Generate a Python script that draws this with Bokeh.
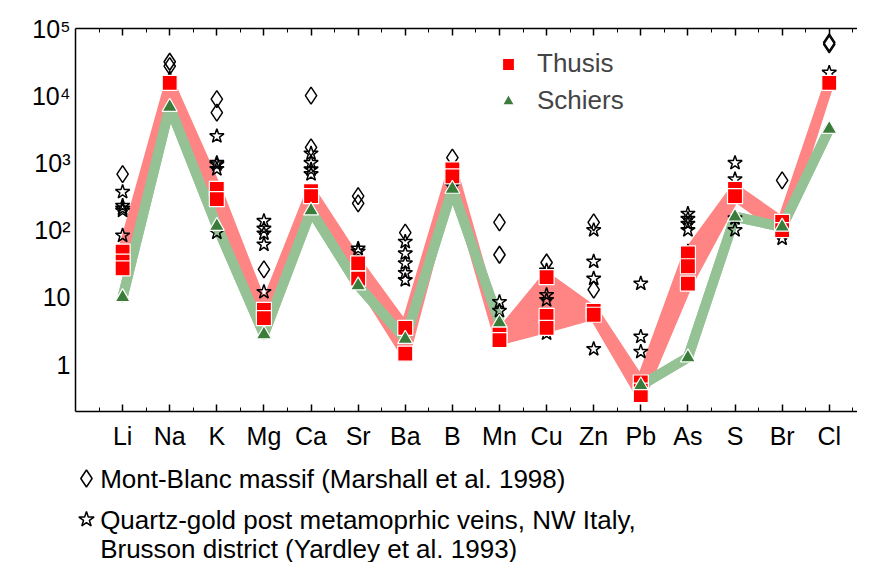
import numpy as np
from bokeh.plotting import figure
from bokeh.layouts import column
from bokeh.models import FixedTicker, LinearAxis, Range1d, Legend, LegendItem
from bokeh.core.properties import value
from bokeh.embed import file_html
from bokeh.resources import INLINE

elements = ["Li","Na","K","Mg","Ca","Sr","Ba","B","Mn","Cu","Zn","Pb","As","S","Br","Cl"]
thusis = {"Li":[48,34,27],"Na":[15500],"K":[410,290],"Mg":[6.5,4.9],"Ca":[380,320],
          "Sr":[32,19],"Ba":[3.5,1.45],"B":[800,630],"Mn":[2.8,2.3],"Cu":[20,5.3,3.5],
          "Zn":[6.3,5.5],"Pb":[0.54,0.41,0.35],"As":[45,29,16],"S":[410,320],"Br":[133,100],"Cl":[15500]}
schiers = {"Li":[10],"Na":[6800],"K":[115],"Mg":[2.8],"Ca":[195],"Sr":[15],"Ba":[2.4],"B":[410],
           "Mn":[4.2],"Pb":[0.49],"As":[1.27],"S":[158],"Br":[112],"Cl":[3200]}
montblanc = {"Li":[680],"Na":[32000,27500],"K":[8900,5600],"Mg":[26],"Ca":[10000,1700],"Sr":[320,250],
             "Ba":[92],"B":[1200],"Mn":[130,43],"Cu":[33],"Zn":[130,13],"Br":[550],"Cl":[62000,58000]}
yardley = {"Li":[370,230,210,195,83],"Na":[18000],"K":[2500,1000,950,810,92],"Mg":[137,105,89,61,12],
           "Ca":[1380,1000,800,680],"Sr":[53,48],"Ba":[67,45,32,23,18],"B":[520,450],"Mn":[8.5,6.3,2.3],
           "Cu":[25,10.8,9.1,2.9],"Zn":[100,34,19,1.7],"Pb":[16,2.6,1.55],"As":[175,147,124,100,48],
           "S":[1000,570,150,100],"Br":[105,89,75],"Cl":[22000]}

idx = {e: i for i, e in enumerate(elements)}
def pts(d):
    xs, ys = [], []
    for e, v in d.items():
        xs += [idx[e]] * len(v); ys += v
    return xs, ys
def band(d):
    lo = [min(d[e]) if e in d else np.nan for e in elements]
    hi = [max(d[e]) if e in d else np.nan for e in elements]
    return np.array(lo, float), np.array(hi, float)

FONT = "Liberation Sans"
p = figure(width=857, height=452, y_axis_type="log", x_range=Range1d(-1, 15.6), y_range=Range1d(0.2, 1e5),
           output_backend="svg", toolbar_location=None, min_border_left=75, min_border_top=28,
           min_border_right=0, min_border_bottom=37)
p.grid.visible = False
p.outline_line_color = None

x = np.arange(len(elements))
RED, GREEN = "#ff8585", "#95c295"
for d, col in [(thusis, RED), (schiers, GREEN)]:
    lo, hi = band(d)
    p.varea(x=x, y1=lo, y2=hi, fill_color=col)
    p.line(x, lo, line_color=col, line_width=10, line_join="round", line_cap="round")
    p.line(x, hi, line_color=col, line_width=10, line_join="round", line_cap="round")

mx, my = pts(montblanc)
p.scatter(mx, my, marker="diamond", size=17, fill_color=None, line_color="black", line_width=1.5)
yx, yy = pts(yardley)
p.scatter(yx, yy, marker="star", size=15, fill_color=None, line_color="black", line_width=1.5)
tx, ty = pts(thusis)
r1 = p.scatter(tx, ty, marker="square", size=15, fill_color="#ff0000", line_color="white", line_width=1.2)
sx, sy = pts(schiers)
r2 = p.scatter(sx, sy, marker="triangle", size=15, fill_color="#3a7d3a", line_color="white", line_width=1.2)

xt = FixedTicker(ticks=list(range(16)), minor_ticks=[i + 0.5 for i in range(-1, 16)])
ax = p.xaxis[0]
ax.ticker = xt
ax.major_label_overrides = {i: e for i, e in enumerate(elements)}
ax.major_label_text_font = FONT
ax.major_label_text_font_size = "25px"
ax.major_label_text_color = "black"
ax.major_label_standoff = 10
ax.major_tick_in, ax.major_tick_out = 7, 0
ax.minor_tick_in, ax.minor_tick_out = 4, 0
ax.axis_line_width = 1.5
ax.major_tick_line_width = 1.5

top = LinearAxis(ticker=xt, major_label_text_font_size="0px", major_tick_in=7, major_tick_out=0,
                 minor_tick_in=4, minor_tick_out=0, axis_line_width=1.5, major_tick_line_width=1.5)
p.add_layout(top, "above")

ya = p.yaxis[0]
ya.ticker = FixedTicker(ticks=[1, 10, 100, 1000, 1e4, 1e5])
ya.major_label_overrides = {1: "1", 10: "10", 100: "10²", 1000: "10³", 10000: "10⁴", 100000: "10⁵"}
ya.major_label_text_font = FONT
ya.major_label_text_font_size = "25px"
ya.major_label_text_color = "black"
ya.major_tick_in, ya.major_tick_out = 0, 0
ya.minor_tick_line_color = None
ya.axis_line_width = 1.5

leg = Legend(items=[LegendItem(label="Thusis", renderers=[r1]), LegendItem(label="Schiers", renderers=[r2])],
             location=(418, 295), border_line_color=None, background_fill_alpha=0,
             label_text_font=FONT, label_text_font_size="26px", spacing=6,
             glyph_width=30, glyph_height=30, label_standoff=14)
p.add_layout(leg)

q = figure(width=857, height=110, x_range=Range1d(0, 857), y_range=Range1d(110, 0),
           output_backend="svg", toolbar_location=None, min_border=0)
q.axis.visible = False
q.grid.visible = False
q.outline_line_color = None
q.scatter([12], [26], marker="diamond", size=17, fill_color=None, line_color="black", line_width=1.5)
q.scatter([12], [67], marker="star", size=16, fill_color=None, line_color="black", line_width=1.5)
q.text([27, 27, 27], [26, 67, 96],
       text=["Mont-Blanc massif (Marshall et al. 1998)", "Quartz-gold post metamoprhic veins, NW Italy,",
             "Brusson district (Yardley et al. 1993)"],
       text_font=value(FONT), text_font_size="26px", text_baseline="middle", text_color="black")

open("out.html", "w").write(file_html(column(p, q, spacing=0), INLINE))
